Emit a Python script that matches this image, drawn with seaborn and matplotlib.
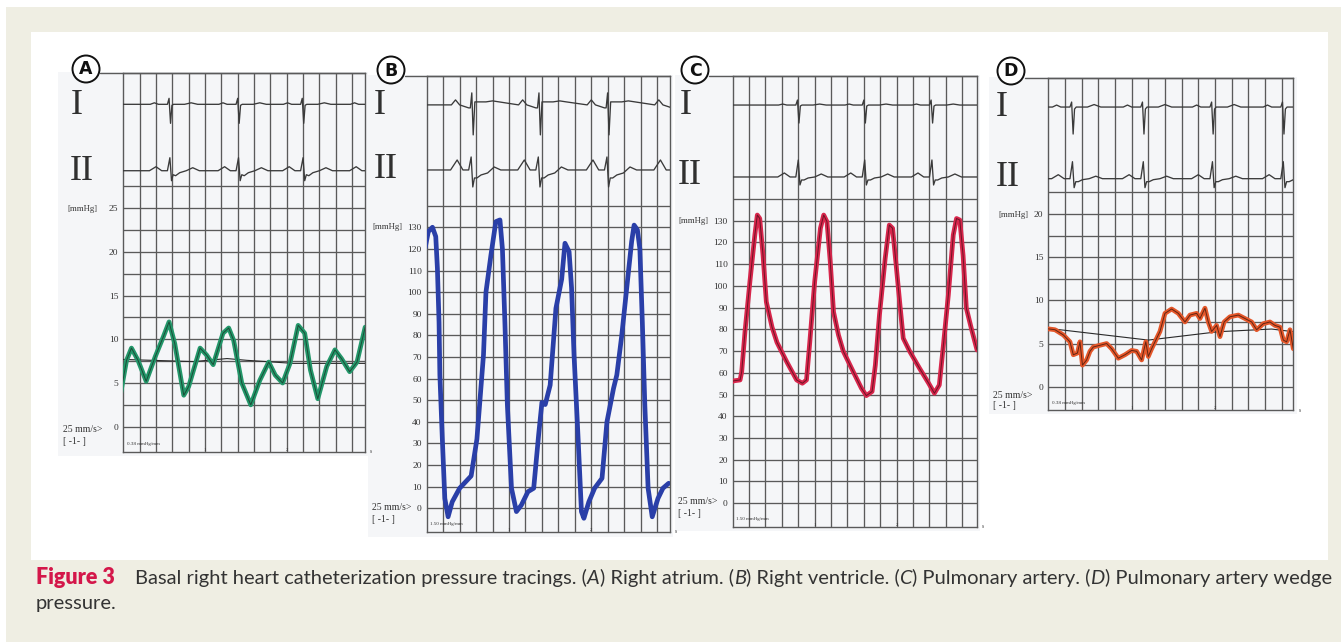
import numpy as np
import matplotlib
matplotlib.use("Agg")
import matplotlib.pyplot as plt
import seaborn as sns
from matplotlib.patches import Rectangle, Ellipse
from matplotlib.lines import Line2D

W, H = 1341, 642

# ---------------- data ----------------
# Panel A: right atrium (mmHg vs s)
A_T = [-0.04, 0.04, 0.10, 0.18, 0.28, 0.39, 0.49, 0.56, 0.63, 0.74, 0.80, 0.94, 1.02, 1.10,
       1.22, 1.29, 1.35, 1.45, 1.56, 1.67, 1.78, 1.86, 1.95, 2.04, 2.14, 2.22, 2.29, 2.38,
       2.49, 2.59, 2.67, 2.77, 2.86, 2.96]
A_P = [3.4, 7.6, 9.0, 7.6, 5.2, 8.0, 10.3, 12.0, 9.5, 3.6, 4.6, 9.0, 8.2, 7.1,
       10.7, 11.3, 9.9, 5.0, 2.5, 5.3, 7.4, 5.9, 5.0, 7.25, 11.6, 10.7, 6.5, 3.2,
       6.9, 8.8, 7.8, 6.3, 7.4, 11.4]
A_MEAN_T = [0.0, 0.86, 1.27, 1.51, 2.08, 2.96]
A_MEAN_P = [7.7, 7.45, 7.8, 7.6, 7.25, 7.25]

# Panel B: right ventricle
B_T = [-0.02, 0.02, 0.07, 0.11, 0.13, 0.15, 0.16, 0.19, 0.22, 0.26, 0.31, 0.40, 0.54, 0.61,
       0.69, 0.72, 0.78, 0.84, 0.89, 0.92, 0.95, 0.98, 1.03, 1.09, 1.15, 1.23, 1.30, 1.36,
       1.40, 1.44, 1.50, 1.57, 1.64, 1.68, 1.73, 1.76, 1.79, 1.84, 1.88, 1.91, 1.97, 2.04,
       2.13, 2.19, 2.27, 2.31, 2.37, 2.43, 2.49, 2.52, 2.56, 2.59, 2.62, 2.65, 2.69, 2.74,
       2.81, 2.87, 2.94]
B_P = [120.3, 128, 130, 125.7, 111, 86, 61.7, 32, 4.6, -3.9, 3, 9.3, 15, 32,
       71, 100, 117, 132.6, 133.4, 120, 86, 48, 9.3, -1.5, 1.5, 7.7, 9.3, 34,
       49, 48, 57, 92.5, 106, 122.6, 118.7, 102, 71, 32, -1.5, -4.6, 3, 9.3,
       13.9, 40, 55.5, 61.7, 80, 101.8, 123.4, 131, 128.8, 120, 86, 48, 9.3, -3.9,
       4.6, 9.3, 11.6]

# Panel C: pulmonary artery
C_T = [-0.03, 0.01, 0.09, 0.11, 0.15, 0.21, 0.27, 0.30, 0.33, 0.37, 0.41, 0.48, 0.54, 0.66,
       0.78, 0.85, 0.90, 0.94, 1.00, 1.07, 1.11, 1.15, 1.19, 1.23, 1.29, 1.35, 1.47, 1.57,
       1.63, 1.70, 1.74, 1.79, 1.86, 1.91, 1.95, 1.99, 2.04, 2.08, 2.16, 2.28, 2.39, 2.46,
       2.52, 2.57, 2.63, 2.69, 2.73, 2.77, 2.81, 2.85, 2.91, 2.98]
C_P = [55.2, 56.3, 56.7, 60.5, 79, 102, 123.4, 132.6, 131, 114, 92.7, 81, 74, 65,
       56.7, 55.2, 56.7, 74, 102, 126.5, 132.6, 129.5, 111, 88, 77.4, 69.8, 60.5, 52.9,
       49.5, 51.4, 63.6, 86.6, 112.7, 128, 126.5, 111, 91.2, 75.9, 69.8, 62, 55.2, 50.6,
       54.4, 72.8, 95.8, 123.4, 131, 130.3, 114, 89.7, 80.5, 70.5]

# Panel D: pulmonary artery wedge pressure
D_T = [0.0, 0.08, 0.18, 0.26, 0.30, 0.35, 0.38, 0.41, 0.46, 0.50, 0.54, 0.62, 0.70, 0.76,
       0.84, 0.92, 1.00, 1.06, 1.12, 1.17, 1.20, 1.24, 1.28, 1.34, 1.40, 1.48, 1.56, 1.64,
       1.70, 1.78, 1.82, 1.88, 1.92, 1.96, 2.02, 2.06, 2.11, 2.18, 2.28, 2.36, 2.44, 2.50,
       2.58, 2.66, 2.72, 2.78, 2.82, 2.86, 2.90, 2.94]
D_P = [6.7, 6.6, 6.0, 5.2, 3.7, 3.9, 5.2, 2.5, 3.1, 4.1, 4.6, 4.8, 5.0, 4.4,
       3.3, 3.7, 4.2, 4.1, 3.1, 5.2, 3.5, 4.4, 5.2, 6.4, 8.5, 9.0, 8.5, 7.5,
       8.3, 8.5, 7.9, 9.1, 7.5, 6.4, 7.1, 5.8, 7.5, 8.1, 8.3, 7.9, 7.5, 6.6,
       7.3, 7.5, 7.1, 6.9, 5.4, 5.2, 6.6, 4.4]
D_MEAN_T = [0.0, 1.2, 2.04, 2.68, 2.94]
D_MEAN_P = [6.76, 5.4, 6.37, 6.68, 6.37]

# pressure tick labels
A_YTICKS = [0, 5, 10, 15, 20, 25]
B_YTICKS = [0, 10, 20, 30, 40, 50, 60, 70, 80, 90, 100, 110, 120, 130]
C_YTICKS = [0, 10, 20, 30, 40, 50, 60, 70, 80, 90, 100, 110, 120, 130]
D_YTICKS = [0, 5, 10, 15, 20]

# ECG: R-wave times (s) per panel
A_R = [0.57, 1.41, 2.20, 3.02]
B_R = [0.54, 1.356, 2.19, 3.01]
C_R = [0.80, 1.61, 2.43]
D_R = [0.29, 1.14, 1.97, 2.82]
# ECG beat shapes: offsets from R (s) and deflections (px, up positive)
LEAD1_DT = [-0.24, -0.19, -0.14, -0.03, -0.01, 0.008, 0.025, 0.045, 0.18, 0.26, 0.34]
A_LEAD1 = [0, 1.5, 0, 0, 6, -19, -1, 0, 0, 1.5, 0]
B_LEAD1 = [0, 5, 0, -3, -3, 12, -30, 3, 3, 4, 3]
C_LEAD1 = [0, 1, 0, 0, 5, -18, -1, 0, 0, 1, 0]
D_LEAD1 = [0, 2, 0, 0, 5, -27, -2, 0, 0, 2.5, 0]
LEAD2_DT = [-0.25, -0.17, -0.10, -0.03, 0.0, 0.02, 0.04, 0.07, 0.12, 0.20, 0.28, 0.36]
A_LEAD2 = [0, 4, 0, 0, 13, -10, -4, -5, -2, 0, 3, 0]
B_LEAD2 = [0, 10, 0, 0, 13, -17, -8, -8, -5, -3, 3, 0]
C_LEAD2 = [0, 4, 0, 0, 17, -8, -3, -3, -1, 0, 3, 0]
D_LEAD2 = [0, 4, 0, 0, 17, -9, -3, -3, -1, 0, 2.5, 0]
# ECG baselines on the pressure scale (lead I, lead II)
A_BASE = [36.9, 29.3]
B_BASE = [186.6, 156.5]
C_BASE = [183.2, 150.1]
D_BASE = [32.4, 24.1]

CAPTION_PIECES = [("Basal right heart catheterization pressure tracings. (", "normal"),
                  ("A", "italic"), (") Right atrium. (", "normal"), ("B", "italic"),
                  (") Right ventricle. (", "normal"), ("C", "italic"),
                  (") Pulmonary artery. (", "normal"), ("D", "italic"),
                  (") Pulmonary artery wedge", "normal")]

# ---------------- layout (pixels) ----------------
PANELS = [
    dict(key="A", grid=(123.3, 73.3, 365.0, 451.7), xlim=(0, 2.958), ylim=(-2.86, 40.45),
         hstep=2.5, htop=27.5, ticks=A_YTICKS, t=A_T, p=A_P, mean=(A_MEAN_T, A_MEAN_P),
         color="#23976a", inner="#173526", R=A_R, l1=A_LEAD1, l2=A_LEAD2, base=A_BASE,
         paper=(58, 72, 368, 456), circ=(86, 69), big1=(77, 105), big2=(82, 171),
         mmhg=(67, 209), speed=(63, 430), scale="0.38 mmHg/mm"),
    dict(key="B", grid=(426.7, 75.7, 670.0, 531.7), xlim=(0, 2.956), ylim=(-10.8, 200.1),
         hstep=10, htop=140, ticks=B_YTICKS, t=B_T, p=B_P, mean=None,
         color="#2a3fa8", inner=None, R=B_R, l1=B_LEAD1, l2=B_LEAD2, base=B_BASE,
         paper=(368, 75, 673, 537), circ=(391, 70), big1=(380, 105), big2=(386, 170),
         mmhg=(372, 227), speed=(372, 508), scale="1.50 mmHg/mm"),
    dict(key="C", grid=(732.7, 75.7, 976.7, 526.7), xlim=(0, 2.976), ylim=(-10.8, 196.7),
         hstep=10, htop=140, ticks=C_YTICKS, t=C_T, p=C_P, mean=None,
         color="#d8264c", inner="#4a0c18", R=C_R, l1=C_LEAD1, l2=C_LEAD2, base=C_BASE,
         paper=(675, 75, 980, 531), circ=(695, 70), big1=(686, 105), big2=(690, 175),
         mmhg=(678, 221), speed=(678, 502), scale="1.50 mmHg/mm"),
    dict(key="D", grid=(1048.3, 77.7, 1293.3, 410.0), xlim=(0, 2.94), ylim=(-2.7, 35.8),
         hstep=2.5, htop=22.5, ticks=D_YTICKS, t=D_T, p=D_P, mean=(D_MEAN_T, D_MEAN_P),
         color="#e4572a", inner="#3a140a", R=D_R, l1=D_LEAD1, l2=D_LEAD2, base=D_BASE,
         paper=(989, 77, 1297, 414), circ=(1011, 71), big1=(1002, 108), big2=(1008, 178),
         mmhg=(998, 215), speed=(993, 395), scale="0.38 mmHg/mm"),
]

sns.set_style("white")
plt.rcParams["font.family"] = ["Liberation Serif", "DejaVu Serif"]

fig = plt.figure(figsize=(W / 100, H / 100), dpi=100)
fig.patch.set_facecolor("#efeee3")


def fx(x):
    return x / W


def fy(y):
    return 1 - y / H


def frect(x0, y0, x1, y1, z, **kw):
    r = Rectangle((fx(x0), fy(y1)), (x1 - x0) / W, (y1 - y0) / H,
                  transform=fig.transFigure, zorder=z, **kw)
    fig.add_artist(r)


# white strips at the image edges and white content box
frect(0, 0, W, 7, -3, facecolor="white", edgecolor="none")
frect(0, 0, 6, H, -3, facecolor="white", edgecolor="none")
frect(31, 32, 1328, 560, -3, facecolor="white", edgecolor="none")

GRID_C = "#5a5a5a"
TXT_C = "#333333"


def ecg_trace(rtimes, dts, amps, t0, t1):
    ts, vs = [t0], [0.0]
    for r in rtimes:
        for d, a in zip(dts, amps):
            ts.append(r + d)
            vs.append(a)
    ts.append(t1)
    vs.append(0.0)
    order = np.argsort(ts)
    return np.asarray(ts)[order], np.asarray(vs, dtype=float)[order]


for P in PANELS:
    gx0, gy0, gx1, gy1 = P["grid"]
    # paper
    px0, py0, px1, py1 = P["paper"]
    frect(px0, py0, px1, py1, -2, facecolor="#f5f6f8", edgecolor="none")

    ax = fig.add_axes([fx(gx0), fy(gy1), (gx1 - gx0) / W, (gy1 - gy0) / H])
    ax.set_facecolor("none")
    x0, x1 = P["xlim"]
    y0, y1 = P["ylim"]
    pxu = (gy1 - gy0) / (y1 - y0)  # px per mmHg

    # grid
    vt = np.arange(0.2, x1 - 0.05, 0.2)
    ax.vlines(vt, y0, y1, color=GRID_C, lw=0.95, zorder=1)
    hl = np.arange(0, P["htop"] + 0.01, P["hstep"])
    ax.hlines(hl, x0, x1, color=GRID_C, lw=0.95, zorder=1)

    # ECG leads
    for k, (shape, dts) in enumerate(((P["l1"], LEAD1_DT), (P["l2"], LEAD2_DT))):
        ts, vs = ecg_trace(P["R"], dts, shape, -0.05, x1 + 0.05)
        sns.lineplot(x=ts, y=P["base"][k] + vs / pxu, ax=ax, color="#3a3a3a", lw=0.95,
                     sort=False, estimator=None, zorder=3)

    # mean pressure line
    if P["mean"] is not None:
        sns.lineplot(x=P["mean"][0], y=P["mean"][1], ax=ax, color="#2a2a2a", lw=0.8,
                     sort=False, estimator=None, zorder=3)
    # pressure trace
    sns.lineplot(x=P["t"], y=P["p"], ax=ax, color=P["color"], lw=3.4, sort=False,
                 estimator=None, zorder=4, solid_joinstyle="round", solid_capstyle="round")
    if P["inner"] is not None:
        sns.lineplot(x=P["t"], y=P["p"], ax=ax, color=P["inner"], lw=0.7, alpha=0.75,
                     sort=False, estimator=None, zorder=5)

    ax.set_xlim(x0, x1)
    ax.set_ylim(y0, y1)
    ax.set_xlabel("")
    ax.set_ylabel("")
    ax.set_xticks([])
    ax.set_yticks(P["ticks"])
    ax.set_yticklabels([str(v) for v in P["ticks"]])
    ax.tick_params(axis="y", length=0, pad=3.5, labelsize=6.8, labelcolor=TXT_C)
    for s in ax.spines.values():
        s.set_visible(True)
        s.set_color(GRID_C)
        s.set_linewidth(1.0)

    # small axis annotations
    ax.text(1.0, y0, "1", fontsize=3.5, color=TXT_C, ha="center", va="bottom")
    ax.text(2.0, y0, "2", fontsize=3.5, color=TXT_C, ha="center", va="bottom")
    ax.text(x1 + 0.06, y0, "s", fontsize=4, color=TXT_C, ha="left", va="center",
            clip_on=False)
    ax.text(0.04, y0 + 0.25 * P["hstep"], P["scale"], fontsize=3.6, color=TXT_C,
            ha="left", va="bottom")

    # labels outside the grid
    fig.text(fx(P["big1"][0]), fy(P["big1"][1]), "I", fontsize=26, color="#303030",
             ha="center", va="center")
    fig.text(fx(P["big2"][0]), fy(P["big2"][1]), "II", fontsize=26, color="#303030",
             ha="center", va="center")
    fig.text(fx(P["mmhg"][0]), fy(P["mmhg"][1]), "[mmHg]", fontsize=6.3, color=TXT_C,
             ha="left", va="center")
    fig.text(fx(P["speed"][0]), fy(P["speed"][1]), "25 mm/s>", fontsize=7, color=TXT_C,
             ha="left", va="center")
    fig.text(fx(P["speed"][0]), fy(P["speed"][1] + 11), "[ -1- ]", fontsize=7,
             color=TXT_C, ha="left", va="center")

    # circled panel letter and top rule
    cx, cy = P["circ"]
    r = 13.5
    fig.add_artist(Line2D([fx(cx + r), fx(gx1)], [fy(gy0), fy(gy0)], color=GRID_C, lw=1.0,
                          transform=fig.transFigure, zorder=2))
    fig.add_artist(Ellipse((fx(cx), fy(cy)), 2 * r / W, 2 * r / H, transform=fig.transFigure,
                           facecolor="white", edgecolor="#111111", lw=1.4, zorder=3))
    fig.text(fx(cx), fy(cy + 0.5), P["key"], fontsize=12.5, fontweight="bold",
             family="DejaVu Sans", color="#111111", ha="center", va="center", zorder=4)

# ---------------- caption ----------------
renderer = fig.canvas.get_renderer()
fig.text(fx(36), fy(584), "Figure 3", fontsize=15.5, fontweight="heavy", family="Lato",
         color="#d4174a", ha="left", va="baseline")


def draw_pieces(x, y, size, keep=True):
    made = []
    for s, st in CAPTION_PIECES:
        t = fig.text(fx(x), fy(y), s, fontsize=size, fontstyle=st, family="Lato",
                     color="#333333", ha="left", va="baseline")
        x += t.get_window_extent(renderer).width
        made.append(t)
    if not keep:
        for t in made:
            t.remove()
    return x


end = draw_pieces(135, 584, 12, keep=False)
size = 12 * (1332 - 135) / (end - 135)
draw_pieces(135, 584, size)
fig.text(fx(36), fy(609), "pressure.", fontsize=size, family="Lato", color="#333333",
         ha="left", va="baseline")

fig.savefig("out.png", dpi=100)
